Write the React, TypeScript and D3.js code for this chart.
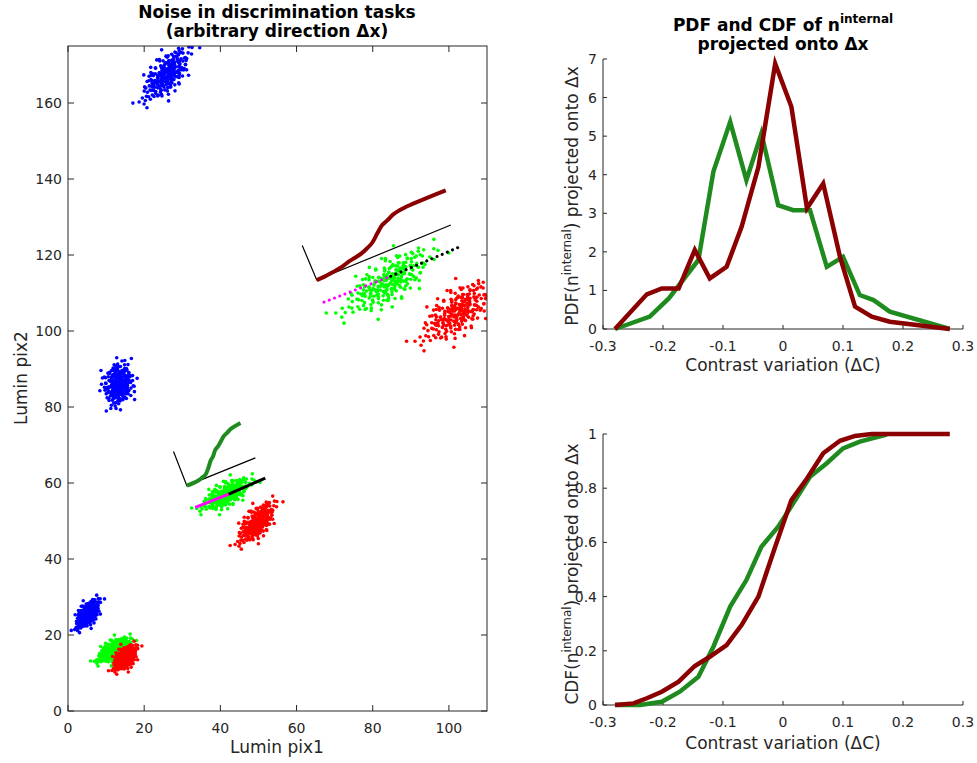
import React from "react";
import * as d3 from "d3";

// ---------- DATA ----------
const pdfGreenX = [-0.28, -0.222, -0.19, -0.141, -0.116, -0.088, -0.061, -0.036, -0.008, 0.017, 0.045, 0.073, 0.1, 0.128, 0.151, 0.178, 0.278];
const pdfGreenY = [0, 0.32, 0.8, 1.79, 4.08, 5.37, 3.86, 5.07, 3.21, 3.08, 3.08, 1.61, 1.87, 0.88, 0.75, 0.45, 0];
const pdfRedX = [-0.28, -0.227, -0.202, -0.174, -0.147, -0.122, -0.094, -0.069, -0.041, -0.013, 0.014, 0.04, 0.067, 0.095, 0.12, 0.148, 0.178, 0.278];
const pdfRedY = [0, 0.9, 1.05, 1.05, 2.05, 1.31, 1.61, 2.65, 4.2, 6.88, 5.76, 3.13, 3.77, 1.87, 0.58, 0.32, 0.19, 0];

const cdfGreenX = [-0.28, -0.238, -0.202, -0.172, -0.141, -0.116, -0.088, -0.061, -0.036, -0.008, 0.017, 0.045, 0.073, 0.1, 0.128, 0.173];
const cdfGreenY = [0, 0, 0.012, 0.049, 0.104, 0.215, 0.363, 0.461, 0.584, 0.658, 0.744, 0.842, 0.892, 0.947, 0.972, 0.998];
const cdfRedX = [-0.28, -0.249, -0.227, -0.202, -0.174, -0.147, -0.122, -0.094, -0.069, -0.041, -0.013, 0.014, 0.04, 0.067, 0.095, 0.12, 0.148, 0.278];
const cdfRedY = [0, 0.006, 0.025, 0.049, 0.086, 0.144, 0.178, 0.221, 0.295, 0.4, 0.584, 0.756, 0.836, 0.929, 0.975, 0.993, 1.0, 1.0];

const leftXTicks = [0, 20, 40, 60, 80, 100];
const leftYTicks = [0, 20, 40, 60, 80, 100, 120, 140, 160];
const rightXTicks = [-0.3, -0.2, -0.1, 0, 0.1, 0.2, 0.3];
const pdfYTicks = [0, 1, 2, 3, 4, 5, 6, 7];
const cdfYTicks = [0, 0.2, 0.4, 0.6, 0.8, 1];

// noise sample offsets (unit spread), shared by the clusters
const NOISE: [number, number][] = [
  [0.21, -0.63], [-1.14, 0.38], [0.87, 1.02], [-0.35, -1.27], [1.49, -0.18], [-0.72, -0.81], [0.05, 0.55], [-1.63, 1.07], [1.12, 0.64], [-0.28, 0.17],
  [0.64, -1.48], [-0.91, 0.02], [1.83, 0.41], [0.33, -0.09], [-0.55, 1.66], [0.97, -0.77], [-1.37, -0.44], [0.14, 1.21], [-0.06, -0.38], [2.21, -0.95],
  [-0.83, 0.73], [0.48, 0.29], [-1.96, -0.12], [1.31, 1.37], [-0.17, -2.04], [0.71, -0.24], [-0.44, 0.92], [1.05, -1.19], [-1.22, 1.58], [0.26, 0.81],
  [-0.67, -0.15], [1.68, -0.51], [-0.02, -0.92], [0.92, 0.12], [-2.31, 0.49], [0.39, -1.71], [-0.88, -1.36], [1.27, 0.88], [-0.12, 0.34], [0.58, 1.74],
  [-1.51, 0.21], [0.09, -0.57], [1.94, 1.15], [-0.31, -0.71], [0.77, 0.47], [-1.05, -0.97], [0.43, 2.12], [-0.59, 0.59], [1.16, -0.33], [-0.22, 1.01],
  [0.31, -1.09], [-1.71, -0.73], [0.68, 0.97], [-0.49, -0.29], [2.47, 0.07], [-0.95, 1.29], [0.17, -0.16], [1.39, -1.26], [-0.38, -1.55], [0.83, 0.27],
  [-1.28, 0.61], [0.02, 0.71], [1.57, 0.53], [-0.74, -0.52], [0.52, -0.66], [-2.02, -0.58], [0.95, 1.62], [-0.11, -1.19], [0.36, 0.44], [-0.63, 1.41],
  [1.21, 0.05], [-1.45, -1.11], [0.61, -0.42], [-0.26, 0.09], [1.76, -0.82], [-0.81, 0.26], [0.11, -2.31], [1.02, 0.76], [-1.09, 0.84], [0.45, -0.87],
  [-0.41, -0.86], [2.08, 0.64], [-0.15, 1.88], [0.73, -1.02], [-1.86, 0.96], [0.28, 0.06], [-0.53, -1.01], [1.34, 0.31], [-0.97, -0.22], [0.19, 1.32],
  [-0.08, 0.49], [0.88, -0.06], [-1.33, -1.62], [0.55, 1.18], [-0.69, 0.14], [1.45, -0.63], [-0.33, 0.67], [0.07, -1.41], [-2.55, -0.31], [0.99, 0.58],
  [-0.19, -0.47], [0.62, 0.36], [-1.18, 0.47], [1.59, 1.01], [-0.46, -1.78], [0.24, -0.27], [-0.86, 1.85], [1.11, -1.52], [-0.04, 0.22], [0.79, -0.34],
  [2.71, 0.95], [-2.62, -1.02], [0.35, 2.58], [-0.48, -2.66], [2.9, -1.3], [-3.0, 1.1],
];

// clusters: [centerX, centerY, angleDeg, sdMajor, sdMinor]
const blueClusters = [
  [25.8, 167.5, 50, 3.8, 1.7],
  [13.2, 86, 80, 2.5, 1.7],
  [5.2, 25.5, 55, 2.0, 1.0],
];
const greenClusters = [
  [12, 16, 35, 2.2, 1.05],
  [41.5, 57, 30, 3.2, 1.3],
  [84, 113, 35, 6.0, 2.3],
];
const redClusters = [
  [15, 14, 50, 1.8, 1.05],
  [49.5, 49.5, 50, 3.0, 1.35],
  [102, 105, 40, 5.0, 2.3],
];

// insets in data coordinates
const topInsetCorner = [65.3, 113.4];
const topInsetU = [37.3, 15.4];
const topInsetV = [-3.43, 8.23];
const topInsetXEnd = [100.5, 127.9];
const topInsetYEnd = [61.5, 122.5];
const botInsetCorner = [31.2, 59.3];
const botInsetU = [17.7, 7.2];
const botInsetV = [-3.62, 9.3];
const botInsetXEnd = [49.2, 66.6];
const botInsetYEnd = [27.7, 68.3];

const topProjNeg = [[67.2, 107.6], [84.7, 114.4]];
const topProjPos = [[84.7, 114.4], [103.2, 122.3]];
const botProjNeg = [[33.4, 53.6], [42.2, 57.1]];
const botProjPos = [[42.2, 57.1], [51.8, 61.3]];

// ---------- LAYOUT ----------
const FONT = "DejaVu Sans, sans-serif";
const AX = "#262626";
const GREEN = "#1f8b1f";
const DRED = "#8b0000";
const TICK_FS = 14;
const LABEL_FS = 17;
const TITLE_FS = 17;

const lx = d3.scaleLinear().domain([0, 110]).range([68, 487]);
const ly = d3.scaleLinear().domain([0, 175]).range([711, 46]);
const rx = d3.scaleLinear().domain([-0.3, 0.3]).range([603, 963]);
const py = d3.scaleLinear().domain([0, 7]).range([329, 59]);
const cy = d3.scaleLinear().domain([0, 1]).range([705, 434]);

function clusterPoints(c: number[]) {
  const [cx0, cy0, ang, s1, s2] = c;
  const t = (ang * Math.PI) / 180;
  const ct = Math.cos(t), st = Math.sin(t);
  const pts: [number, number][] = [];
  const variants: [number, number][][] = [NOISE, NOISE.map(([a, b]) => [b, -a] as [number, number])];
  variants.forEach((arr) =>
    arr.forEach(([a, b]) => {
      const u = a * s1, v = b * s2;
      pts.push([cx0 + u * ct - v * st, cy0 + u * st + v * ct]);
    })
  );
  return pts;
}

function insetCurve(xs: number[], ys: number[], corner: number[], U: number[], V: number[]) {
  return xs.map((x, i) => {
    const t = (x - xs[0]) / (xs[xs.length - 1] - xs[0]);
    const c = ys[i];
    return [corner[0] + t * U[0] + c * V[0], corner[1] + t * U[1] + c * V[1]] as [number, number];
  });
}

const lineLeft = d3.line<number[]>().x((d) => lx(d[0])).y((d) => ly(d[1]));
const lineLeftCurve = d3.line<number[]>().x((d) => lx(d[0])).y((d) => ly(d[1])).curve(d3.curveMonotoneX);

function seriesPath(xs: number[], ys: number[], ys2: d3.ScaleLinear<number, number>) {
  return d3.line<number>().x((_, i) => rx(xs[i])).y((d) => ys2(d))(ys) || "";
}

export default function App() {
  const topCurve = insetCurve(cdfRedX, cdfRedY, topInsetCorner, topInsetU, topInsetV);
  const botCurve = insetCurve(cdfGreenX, cdfGreenY, botInsetCorner, botInsetU, botInsetV);

  const dots = (clusters: number[][], color: string) =>
    clusters.map((c, ci) =>
      clusterPoints(c).map((p, i) => (
        <circle key={color + ci + "-" + i} cx={lx(p[0])} cy={ly(p[1])} r={1.8} fill={color} />
      ))
    );

  const rightAxes = (yScale: d3.ScaleLinear<number, number>, yTicks: number[], fmt: (v: number) => string, tickLabelY: number) => (
    <g>
      <line x1={603} x2={603} y1={yScale.range()[0]} y2={yScale.range()[1]} stroke={AX} strokeWidth={1} />
      <line x1={603} x2={963} y1={yScale.range()[0]} y2={yScale.range()[0]} stroke={AX} strokeWidth={1} />
      {yTicks.map((t) => (
        <g key={"y" + t}>
          <line x1={603} x2={607} y1={yScale(t)} y2={yScale(t)} stroke={AX} />
          <text x={597} y={yScale(t) + 5} textAnchor="end" fontSize={TICK_FS} fill={AX} fontFamily={FONT}>
            {fmt(t)}
          </text>
        </g>
      ))}
      {rightXTicks.map((t) => (
        <g key={"x" + t}>
          <line x1={rx(t)} x2={rx(t)} y1={yScale.range()[0]} y2={yScale.range()[0] - 4} stroke={AX} />
          <text x={rx(t)} y={tickLabelY} textAnchor="middle" fontSize={TICK_FS} fill={AX} fontFamily={FONT}>
            {t === 0 ? "0" : String(+t.toFixed(1))}
          </text>
        </g>
      ))}
    </g>
  );

  return (
    <svg width={977} height={763} style={{ position: "absolute", left: 0, top: 0, background: "#fff" }}>
      <rect x={0} y={0} width={977} height={763} fill="#fff" />
      <defs>
        <clipPath id="leftClip">
          <rect x={68} y={46} width={419} height={665} />
        </clipPath>
      </defs>

      {/* Left titles */}
      <text x={277} y={18} textAnchor="middle" fontSize={TITLE_FS} fontWeight="bold" fontFamily={FONT} fill="#000">
        Noise in discrimination tasks
      </text>
      <text x={277} y={37} textAnchor="middle" fontSize={TITLE_FS} fontWeight="bold" fontFamily={FONT} fill="#000">
        (arbitrary direction Δx)
      </text>

      {/* scatter */}
      <g clipPath="url(#leftClip)">
        {dots(blueClusters, "#0000ff")}
        {dots(greenClusters, "#00ff00")}
        {dots(redClusters, "#ff0000")}

        {/* top inset */}
        <path d={lineLeft([topInsetYEnd, topInsetCorner, topInsetXEnd]) || ""} fill="none" stroke="#000" strokeWidth={1.2} />
        <path d={lineLeftCurve(topCurve) || ""} fill="none" stroke={DRED} strokeWidth={4} strokeLinejoin="round" />
        <path d={lineLeft(topProjNeg) || ""} fill="none" stroke="#ff00ff" strokeWidth={3} strokeLinecap="round" strokeDasharray="0.1 5.5" />
        <path d={lineLeft(topProjPos) || ""} fill="none" stroke="#000" strokeWidth={3} strokeLinecap="round" strokeDasharray="0.1 5.5" />

        {/* bottom inset */}
        <path d={lineLeft([botInsetYEnd, botInsetCorner, botInsetXEnd]) || ""} fill="none" stroke="#000" strokeWidth={1.2} />
        <path d={lineLeftCurve(botCurve) || ""} fill="none" stroke={GREEN} strokeWidth={4} strokeLinejoin="round" />
        <path d={lineLeft(botProjNeg) || ""} fill="none" stroke="#ff00ff" strokeWidth={3} />
        <path d={lineLeft(botProjPos) || ""} fill="none" stroke="#000" strokeWidth={3} />
      </g>

      {/* left box + ticks */}
      <rect x={68} y={46} width={419} height={665} fill="none" stroke={AX} strokeWidth={1} />
      {leftXTicks.map((t) => (
        <g key={"lx" + t}>
          <line x1={lx(t)} x2={lx(t)} y1={711} y2={705} stroke={AX} />
          <line x1={lx(t)} x2={lx(t)} y1={46} y2={52} stroke={AX} />
          <text x={lx(t)} y={733} textAnchor="middle" fontSize={TICK_FS} fill={AX} fontFamily={FONT}>
            {t}
          </text>
        </g>
      ))}
      {leftYTicks.map((t) => (
        <g key={"ly" + t}>
          <line x1={68} x2={74} y1={ly(t)} y2={ly(t)} stroke={AX} />
          <line x1={487} x2={481} y1={ly(t)} y2={ly(t)} stroke={AX} />
          <text x={62} y={ly(t) + 5} textAnchor="end" fontSize={TICK_FS} fill={AX} fontFamily={FONT}>
            {t}
          </text>
        </g>
      ))}
      <text x={277} y={753} textAnchor="middle" fontSize={LABEL_FS} fill={AX} fontFamily={FONT}>
        Lumin pix1
      </text>
      <text transform="translate(27,378) rotate(-90)" textAnchor="middle" fontSize={LABEL_FS} fill={AX} fontFamily={FONT}>
        Lumin pix2
      </text>

      {/* Right title */}
      <text x={783} y={31} textAnchor="middle" fontSize={TITLE_FS} fontWeight="bold" fontFamily={FONT} fill="#000">
        PDF and CDF of n<tspan fontSize={12} dy={-8}>internal</tspan>
      </text>
      <text x={783} y={50} textAnchor="middle" fontSize={TITLE_FS} fontWeight="bold" fontFamily={FONT} fill="#000">
        projected onto Δx
      </text>

      {/* PDF */}
      {rightAxes(py, pdfYTicks, (v) => String(v), 351)}
      <path d={seriesPath(pdfGreenX, pdfGreenY, py)} fill="none" stroke={GREEN} strokeWidth={4.5} strokeLinejoin="miter" />
      <path d={seriesPath(pdfRedX, pdfRedY, py)} fill="none" stroke={DRED} strokeWidth={4.5} strokeLinejoin="miter" />
      <text x={783} y={371} textAnchor="middle" fontSize={LABEL_FS} fill={AX} fontFamily={FONT}>
        Contrast variation (ΔC)
      </text>
      <text transform="translate(578,196) rotate(-90)" textAnchor="middle" fontSize={LABEL_FS} fill={AX} fontFamily={FONT}>
        PDF(n<tspan fontSize={12} dy={-7}>internal</tspan><tspan dy={7}>) projected onto Δx</tspan>
      </text>

      {/* CDF */}
      {rightAxes(cy, cdfYTicks, (v) => (v === 0 || v === 1 ? String(v) : v.toFixed(1)), 727)}
      <path d={seriesPath(cdfGreenX, cdfGreenY, cy)} fill="none" stroke={GREEN} strokeWidth={4.5} />
      <path d={seriesPath(cdfRedX, cdfRedY, cy)} fill="none" stroke={DRED} strokeWidth={4.5} />
      <text x={783} y={749} textAnchor="middle" fontSize={LABEL_FS} fill={AX} fontFamily={FONT}>
        Contrast variation (ΔC)
      </text>
      <text transform="translate(578,574) rotate(-90)" textAnchor="middle" fontSize={LABEL_FS} fill={AX} fontFamily={FONT}>
        CDF(n<tspan fontSize={12} dy={-7}>internal</tspan><tspan dy={7}>) projected onto Δx</tspan>
      </text>
    </svg>
  );
}
